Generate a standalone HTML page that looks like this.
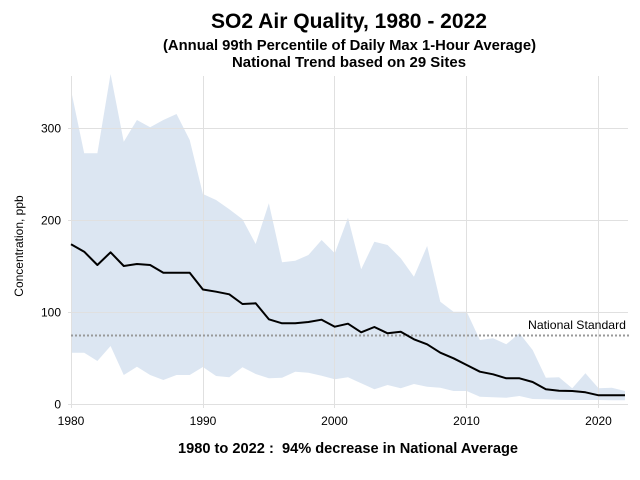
<!DOCTYPE html>
<html>
<head>
<meta charset="utf-8">
<style>
html,body{margin:0;padding:0;background:#fff;}
svg{display:block;}
text{font-family:"Liberation Sans",Arial,sans-serif;fill:#000;}
</style>
</head>
<body>
<svg width="640" height="480" viewBox="0 0 640 480" xmlns="http://www.w3.org/2000/svg">
  <rect width="640" height="480" fill="#fff"/>
  <!-- titles -->
  <text x="349" y="28" font-size="21" font-weight="bold" text-anchor="middle" textLength="276" lengthAdjust="spacingAndGlyphs">SO2 Air Quality, 1980 - 2022</text>
  <text x="349.5" y="50" font-size="14.5" font-weight="bold" text-anchor="middle" textLength="373" lengthAdjust="spacingAndGlyphs">(Annual 99th Percentile of Daily Max 1-Hour Average)</text>
  <text x="349" y="67" font-size="14.5" font-weight="bold" text-anchor="middle" textLength="234" lengthAdjust="spacingAndGlyphs">National Trend based on 29 Sites</text>

  <!-- band -->
  <polygon fill="#dce6f2" points="
71,90 84.19,153.3 97.38,153.3 110.57,74 123.76,141.7 136.95,120 150.14,127.3 163.33,120 176.52,114 189.71,140 202.9,194 216.09,200 229.28,209.3 242.47,219.3 255.66,244 268.85,203.3 282.04,262.3 295.23,260.7 308.42,255 321.61,240 334.8,253.3 347.99,217.7 361.18,269.3 374.37,241.7 387.56,245 400.75,258.3 413.94,276.7 427.13,246 440.32,301.7 453.51,311.7 466.7,311.7 479.89,340 493.08,338.3 506.27,344.3 519.46,333.3 532.65,350 545.84,377.7 559.03,377.3 572.22,388.3 585.41,373.3 598.6,388.3 611.79,387.7 624.98,391
624.98,400.3 611.79,400.3 598.6,400 585.41,400 572.22,400 559.03,399.7 545.84,399.3 532.65,399 519.46,396 506.27,397.7 493.08,397.3 479.89,396.7 466.7,391 453.51,391 440.32,387.7 427.13,386.7 413.94,384 400.75,388.3 387.56,385 374.37,389.3 361.18,383.3 347.99,377.3 334.8,379.3 321.61,375.7 308.42,372.7 295.23,371.7 282.04,377.7 268.85,378.3 255.66,374 242.47,367.3 229.28,377.3 216.09,376 202.9,367 189.71,375 176.52,375 163.33,380 150.14,375 136.95,366.7 123.76,375 110.57,346 97.38,361 84.19,352.7 71,352.7"/>

  <!-- gridlines -->
  <g stroke="#e0e0e0" stroke-width="1" fill="none">
    <line x1="68" y1="404.5" x2="628" y2="404.5"/>
    <line x1="68" y1="312.5" x2="628" y2="312.5"/>
    <line x1="68" y1="220.5" x2="628" y2="220.5"/>
    <line x1="68" y1="128.5" x2="628" y2="128.5"/>
    <line x1="71.5" y1="76" x2="71.5" y2="408"/>
    <line x1="203.5" y1="76" x2="203.5" y2="408"/>
    <line x1="334.5" y1="76" x2="334.5" y2="408"/>
    <line x1="466.5" y1="76" x2="466.5" y2="408"/>
    <line x1="598.5" y1="76" x2="598.5" y2="408"/>
  </g>

  <!-- national standard -->
  <line x1="71" y1="335.5" x2="630" y2="335.5" stroke="#999" stroke-width="2" stroke-dasharray="2,2"/>
  <text x="626" y="329" font-size="12" text-anchor="end" textLength="98" lengthAdjust="spacingAndGlyphs">National Standard</text>

  <!-- mean line -->
  <polyline fill="none" stroke="#000" stroke-width="2" stroke-linejoin="round" points="
71,244.3 84.19,251.7 97.38,265 110.57,252.3 123.76,266 136.95,264 150.14,265 163.33,272.7 176.52,272.7 189.71,272.7 202.9,289.5 216.09,291.7 229.28,294.3 242.47,304 255.66,303.3 268.85,319.3 282.04,323.3 295.23,323.3 308.42,322 321.61,319.7 334.8,326.7 347.99,323.7 361.18,332.3 374.37,327 387.56,333.3 400.75,331.7 413.94,339.3 427.13,344.3 440.32,352.7 453.51,358.3 466.7,365 479.89,371.7 493.08,374.3 506.27,378.3 519.46,378.3 532.65,382 545.84,389.3 559.03,390.7 572.22,391 585.41,392.3 598.6,395.3 611.79,395.3 624.98,395.3"/>

  <!-- y tick labels -->
  <g font-size="12" text-anchor="end">
    <text x="61" y="408.5">0</text>
    <text x="61" y="316.5">100</text>
    <text x="61" y="224.5">200</text>
    <text x="61" y="132.5">300</text>
  </g>
  <!-- x tick labels -->
  <g font-size="12" text-anchor="middle">
    <text x="71" y="425">1980</text>
    <text x="203" y="425">1990</text>
    <text x="334.5" y="425">2000</text>
    <text x="466.5" y="425">2010</text>
    <text x="598.5" y="425">2020</text>
  </g>

  <!-- y axis label -->
  <text x="0" y="0" font-size="12" text-anchor="middle" transform="translate(23,246) rotate(-90)">Concentration,  ppb</text>

  <!-- footer -->
  <text x="348" y="453" font-size="14.5" font-weight="bold" text-anchor="middle" xml:space="preserve" textLength="340" lengthAdjust="spacingAndGlyphs">1980 to 2022 :  94% decrease in National Average</text>
</svg>
</body>
</html>
